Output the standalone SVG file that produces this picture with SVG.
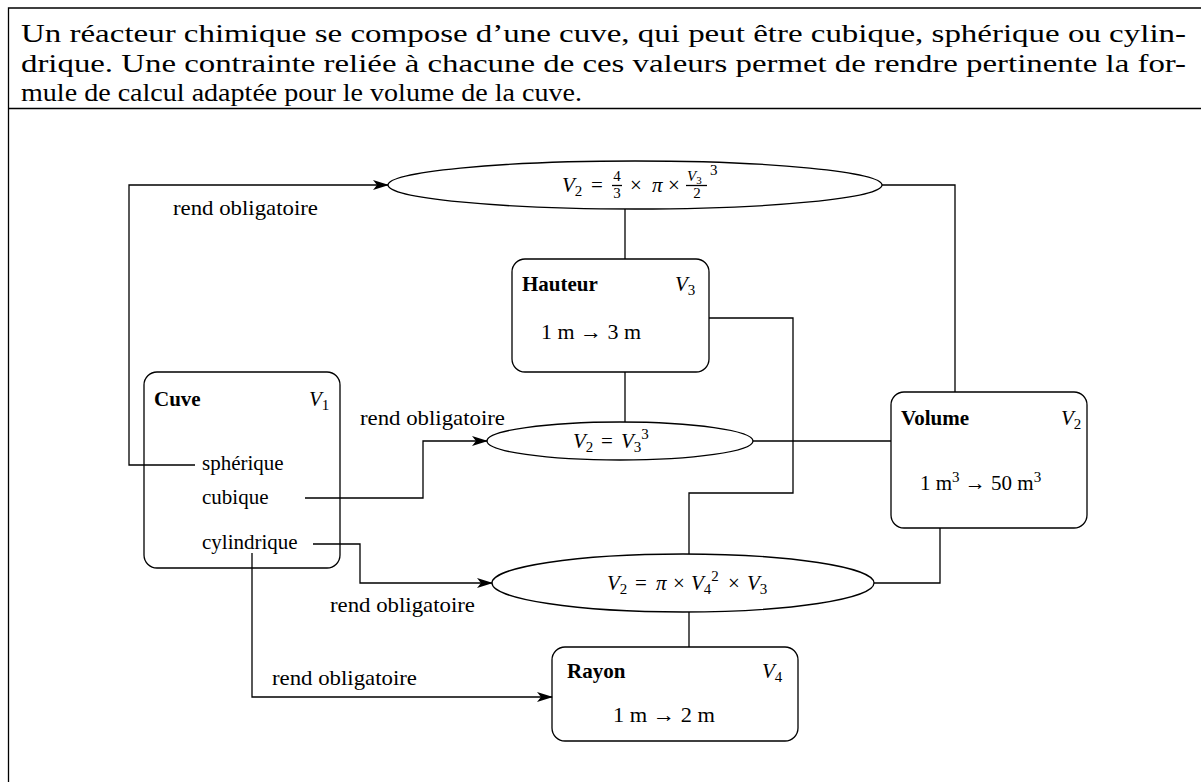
<svg xmlns="http://www.w3.org/2000/svg" width="1201" height="782" viewBox="0 0 1201 782">
<style>
text{font-family:"Liberation Serif","Times New Roman",serif;fill:#000}
.cap{font-size:25px}
.lab{font-size:21px}
.b{font-weight:bold}
.m{font-style:italic;font-size:21px}
.s{font-size:15px;font-style:normal}
.si{font-size:15px;font-style:italic}
.node{fill:#fff;stroke:#000;stroke-width:1.3}
.ln{fill:none;stroke:#000;stroke-width:1.3}
</style>
<defs>
<marker id="ar" viewBox="0 0 16 10" refX="15" refY="5" markerWidth="16" markerHeight="10" markerUnits="userSpaceOnUse" orient="auto">
<path d="M0,0 L16,5 L0,10 L4,5 Z" fill="#000"/>
</marker>
</defs>
<rect width="1201" height="782" fill="#fff"/>
<g id="frame">
<path class="ln" d="M1201,8 H8.5 V782"/>
<path class="ln" d="M8.5,108.5 H1201"/>
</g>
<g id="caption">
<text class="cap" x="21" y="42" textLength="1165" lengthAdjust="spacingAndGlyphs">Un réacteur chimique se compose d’une cuve, qui peut être cubique, sphérique ou cylin-</text>
<text class="cap" x="21" y="72" textLength="1165" lengthAdjust="spacingAndGlyphs">drique. Une contrainte reliée à chacune de ces valeurs permet de rendre pertinente la for-</text>
<text class="cap" x="21" y="101" textLength="561" lengthAdjust="spacingAndGlyphs">mule de calcul adaptée pour le volume de la cuve.</text>
</g>
<g id="eq-sphere">
<ellipse class="node" cx="635" cy="185" rx="247" ry="24"/>
<text class="m" x="562" y="192">V<tspan class="s" dy="4">2</tspan></text>
<text class="lab" x="591" y="192">=</text>
<text class="s" x="617" y="181" text-anchor="middle">4</text>
<path class="ln" d="M612,185.5 H622" stroke-width="0.8"/>
<text class="s" x="617" y="198" text-anchor="middle">3</text>
<text class="lab" x="630" y="192">×</text>
<text class="m" x="652" y="192">π</text>
<text class="lab" x="668" y="192">×</text>
<text class="si" x="687" y="181">V<tspan font-size="11" font-style="normal" dy="3">3</tspan></text>
<path class="ln" d="M686,185.5 H707" stroke-width="0.8"/>
<text class="s" x="697" y="198" text-anchor="middle">2</text>
<text class="s" x="710" y="175">3</text>
</g>
<g id="hauteur">
<rect class="node" x="512" y="259" width="197" height="113" rx="13"/>
<text class="lab b" x="522" y="291">Hauteur</text>
<text class="m" x="675" y="291">V<tspan class="s" dy="4">3</tspan></text>
<text class="lab" x="541" y="339" textLength="100" lengthAdjust="spacingAndGlyphs">1 m → 3 m</text>
</g>
<g id="eq-cube">
<ellipse class="node" cx="620" cy="441" rx="133" ry="19"/>
<text class="m" x="573" y="448">V<tspan class="s" dy="4">2</tspan></text>
<text class="lab" x="601" y="448">=</text>
<text class="m" x="621" y="448">V<tspan class="s" dy="4">3</tspan><tspan class="s" dy="-13">3</tspan></text>
</g>
<g id="volume">
<rect class="node" x="891" y="392" width="196" height="136" rx="13"/>
<text class="lab b" x="901" y="425">Volume</text>
<text class="m" x="1061" y="425">V<tspan class="s" dy="4">2</tspan></text>
<text class="lab" x="920" y="490">1 m<tspan class="s" dy="-8">3</tspan><tspan dy="8">  → 50 m</tspan><tspan class="s" dy="-8">3</tspan></text>
</g>
<g id="cuve">
<rect class="node" x="144" y="372" width="196" height="196" rx="13"/>
<text class="lab b" x="154" y="406">Cuve</text>
<text class="m" x="309" y="406">V<tspan class="s" dy="4">1</tspan></text>
<text class="lab" x="202" y="470">sphérique</text>
<text class="lab" x="202" y="504">cubique</text>
<text class="lab" x="202" y="549">cylindrique</text>
</g>
<g id="eq-cylindre">
<ellipse class="node" cx="683" cy="583" rx="191" ry="29"/>
<text class="m" x="607" y="590">V<tspan class="s" dy="4">2</tspan></text>
<text class="lab" x="635" y="590">=</text>
<text class="m" x="656" y="590">π</text>
<text class="lab" x="673" y="590">×</text>
<text class="m" x="691" y="590">V<tspan class="s" dy="4">4</tspan><tspan class="s" dy="-13">2</tspan></text>
<text class="lab" x="728" y="590">×</text>
<text class="m" x="747" y="590">V<tspan class="s" dy="4">3</tspan></text>
</g>
<g id="rayon">
<rect class="node" x="552" y="647" width="246" height="94" rx="13"/>
<text class="lab b" x="567" y="678">Rayon</text>
<text class="m" x="762" y="678">V<tspan class="s" dy="4">4</tspan></text>
<text class="lab" x="613" y="722" textLength="102" lengthAdjust="spacingAndGlyphs">1 m → 2 m</text>
</g>
<g id="connectors">
<path class="ln" d="M195,465 H129 V185 H388" marker-end="url(#ar)"/>
<path class="ln" d="M305,498 H423 V441 H487" marker-end="url(#ar)"/>
<path class="ln" d="M313,544 H360 V583 H492" marker-end="url(#ar)"/>
<path class="ln" d="M252,553 V697 H552" marker-end="url(#ar)"/>
<path class="ln" d="M625,209 V259"/>
<path class="ln" d="M625,372 V422"/>
<path class="ln" d="M753,441 H891"/>
<path class="ln" d="M882,185 H955 V392"/>
<path class="ln" d="M940,528 V583 H874"/>
<path class="ln" d="M709,318 H793 V493 H689 V554"/>
<path class="ln" d="M689,612 V647"/>
<text class="lab" x="173" y="215" textLength="145" lengthAdjust="spacingAndGlyphs">rend obligatoire</text>
<text class="lab" x="360" y="425" textLength="145" lengthAdjust="spacingAndGlyphs">rend obligatoire</text>
<text class="lab" x="330" y="612" textLength="145" lengthAdjust="spacingAndGlyphs">rend obligatoire</text>
<text class="lab" x="272" y="685" textLength="145" lengthAdjust="spacingAndGlyphs">rend obligatoire</text>
</g>
</svg>
